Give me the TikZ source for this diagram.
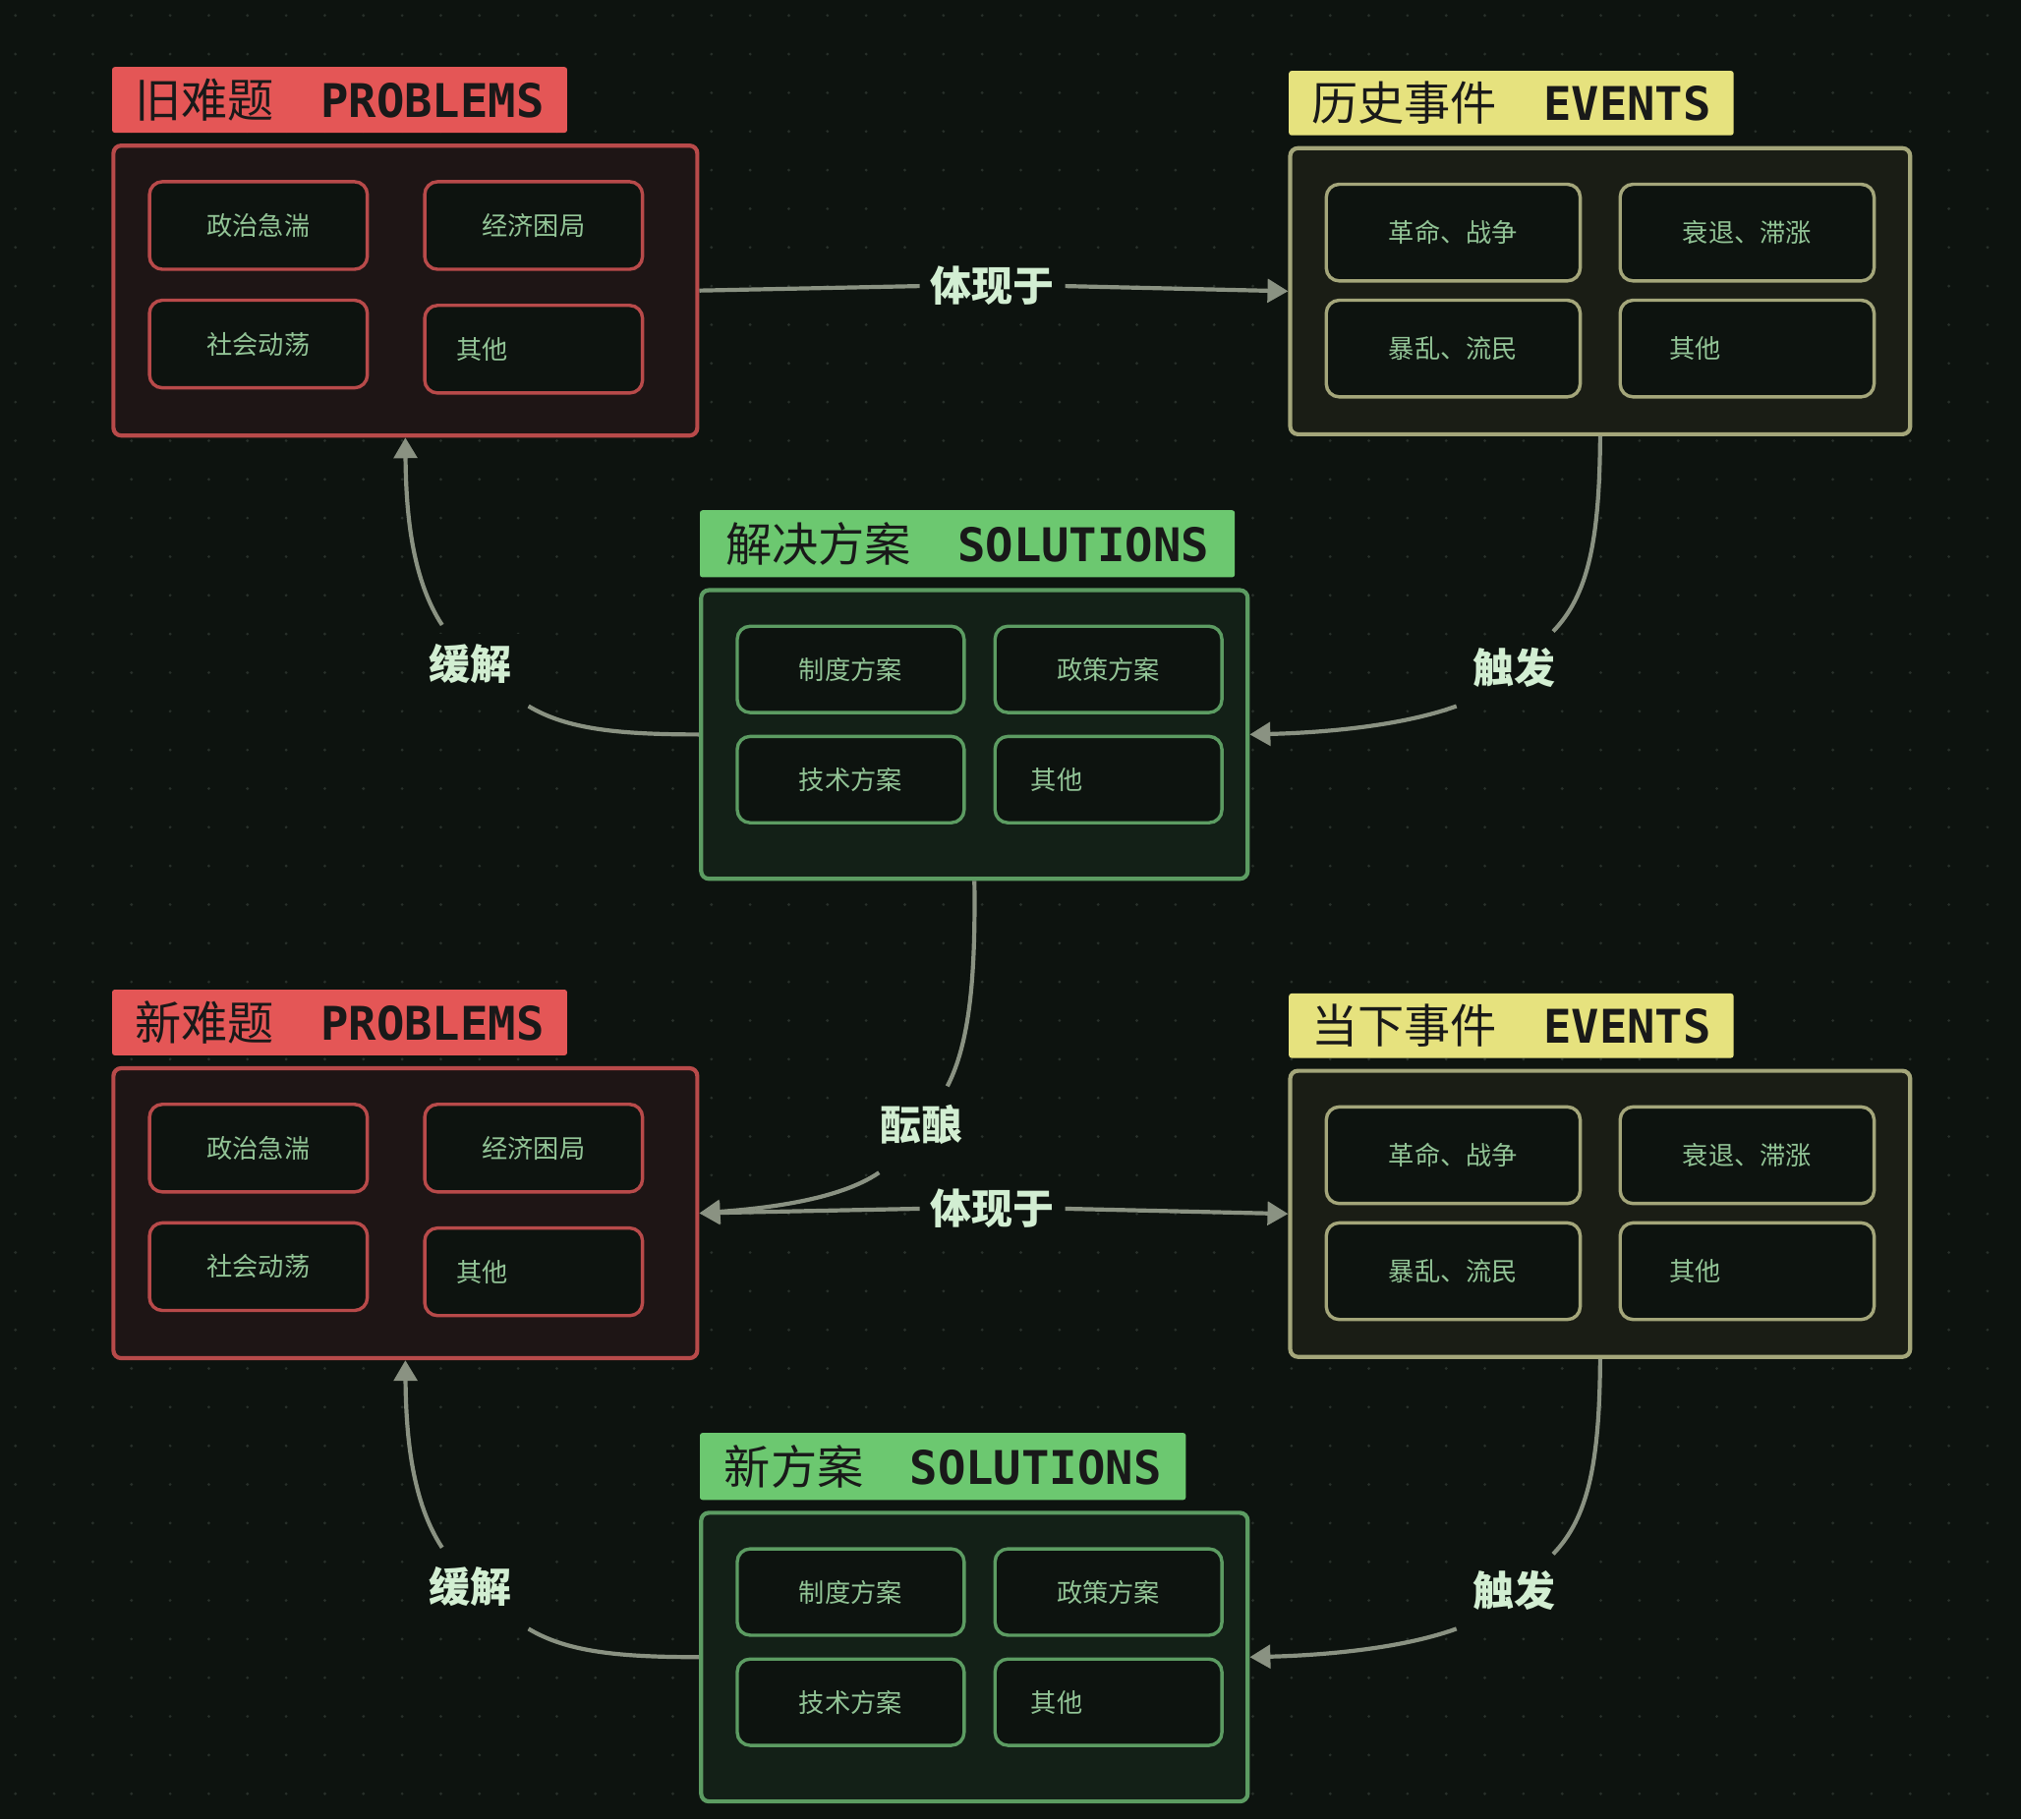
\documentclass[tikz,border=0pt]{standalone}
\usepackage{fontspec}
\setmainfont{Noto Sans CJK SC}
\newfontfamily\mono{DejaVu Sans Mono}
\usetikzlibrary{arrows.meta,calc}
\definecolor{bg}{HTML}{0D130F}
\definecolor{dotc}{HTML}{28302A}
\definecolor{redl}{HTML}{E45656}
\definecolor{redb}{HTML}{B84A4A}
\definecolor{redf}{HTML}{1E1515}
\definecolor{yell}{HTML}{E6E27E}
\definecolor{yelb}{HTML}{A4A67A}
\definecolor{yelf}{HTML}{1A1D15}
\definecolor{grnl}{HTML}{6CC870}
\definecolor{grnb}{HTML}{5C9C62}
\definecolor{grnf}{HTML}{132017}
\definecolor{itxt}{HTML}{92C496}
\definecolor{conn}{HTML}{8A9282}
\definecolor{ltxt}{HTML}{D2EED2}
\tikzset{
  x=0.5pt,y=-0.5pt,
  cont/.style={draw=#1,line width=1.6pt,rounded corners=3pt,inner sep=0pt},
  box/.style={draw=#1,line width=1.3pt,rounded corners=5pt,inner sep=0pt,text=itxt,font=\fontsize{10}{12}\selectfont,fill=bg},
  hdr/.style={fill=#1,rounded corners=1pt,inner sep=0pt,text=black!90,font=\fontsize{18}{20}\selectfont},
  lbl/.style={fill=bg,text=ltxt,font=\fontsize{16}{18}\selectfont\bfseries,inner sep=4pt},
  cn/.style={draw=conn,line width=1.6pt},
  tip/.style={-{Triangle[width=9pt,length=8pt]}},
}
\newcommand\mybox[7]{% name, color, cx, cy, w, h, text
  \node[box=#2,minimum width=#5*0.5pt,minimum height=#6*0.5pt,align=left] (#1) at (#3,#4) {#7};}
\newcommand\drawset[6]{% offset, prefix, problabel, eventlabel, sollabel, sollabel width
  % problems
  \node[cont=redb,fill=redf,minimum width=226.5pt,minimum height=112.5pt] (#2P) at (314.5,{225.5+#1}) {};
  \node[hdr=redl,minimum width=176.5pt,minimum height=25.5pt] (#2Ph) at (263.5,{77.5+#1}) {#3\hspace{1em}{\mono\bfseries PROBLEMS}};
  \mybox{#2p1}{redb}{200.5}{175+#1}{169}{68}{政治急湍}
  \mybox{#2p2}{redb}{414}{175+#1}{169}{68}{经济困局}
  \mybox{#2p3}{redb}{200.5}{267+#1}{169}{68}{社会动荡}
  \mybox{#2p4}{redb}{414}{271+#1}{169}{68}{\hspace*{-40pt}其他}
  % events
  \node[cont=yelb,fill=yelf,minimum width=240.5pt,minimum height=111pt] (#2E) at (1241.5,{226+#1}) {};
  \node[hdr=yell,minimum width=172.5pt,minimum height=25pt] (#2Eh) at (1172.5,{80+#1}) {#4\hspace{1em}{\mono\bfseries EVENTS}};
  \mybox{#2e1}{yelb}{1127.5}{180.5+#1}{197}{75}{革命、战争}
  \mybox{#2e2}{yelb}{1355.5}{180.5+#1}{197}{75}{衰退、滞涨}
  \mybox{#2e3}{yelb}{1127.5}{270.5+#1}{197}{75}{暴乱、流民}
  \mybox{#2e4}{yelb}{1355.5}{270.5+#1}{197}{75}{\hspace*{-40pt}其他}
  % solutions
  \node[cont=grnb,fill=grnf,minimum width=212pt,minimum height=112pt] (#2S) at (756,{570+#1}) {};
  \node[hdr=grnl,minimum width=#6*0.5pt,minimum height=26pt] (#2Sh) at ({543+#6/2},{422+#1}) {#5\hspace{1em}{\mono\bfseries SOLUTIONS}};
  \mybox{#2s1}{grnb}{660}{519.5+#1}{176}{67}{制度方案}
  \mybox{#2s2}{grnb}{860}{519.5+#1}{176}{67}{政策方案}
  \mybox{#2s3}{grnb}{660}{605+#1}{176}{67}{技术方案}
  \mybox{#2s4}{grnb}{860}{605+#1}{176}{67}{\hspace*{-40pt}其他}
  % 触发
  \node[lbl] (#2T) at (1175,{518+#1}) {触发};
  \draw[cn] (#2E.south) .. controls (1241,{420+#1}) and (1232,{462+#1}) .. (1205,{490+#1});
  \draw[cn,tip] (1130,{548+#1}) .. controls (1080,{566+#1}) and (1010,{569+#1}) .. (#2S.east);
  % 缓解
  \node[lbl] (#2H) at (365,{515+#1}) {缓解};
  \draw[cn] (#2S.west) .. controls (480,{570+#1}) and (440,{566+#1}) .. (410,{548+#1});
  \draw[cn,tip] (343,{485+#1}) .. controls (320,{450+#1}) and (315,{400+#1}) .. (#2P.south);
}
\begin{document}
\begin{tikzpicture}
\fill[bg] (0,0) rectangle (1568,1412);
\useasboundingbox (0,0) rectangle (1568,1412);
\foreach \i in {0,...,52}{\foreach \j in {0,...,47}{\fill[dotc] ({12+\i*30},{12+\j*30}) circle (0.6pt);}}
\drawset{0}{a}{旧难题}{历史事件}{解决方案}{415}
\drawset{716}{b}{新难题}{当下事件}{新方案}{377}
% 体现于 top
\node[lbl] (aL) at (770,222) {体现于};
\draw[cn] (aP.east) -- (aL.west);
\draw[cn,tip] (aL.east) -- (aE.west);
% 体现于 bottom
\node[lbl] (bL) at (770,938) {体现于};
\draw[cn,tip] (bL.west) -- (bP.east);
\draw[cn,tip] (bL.east) -- (bE.west);
% 酝酿
\node[lbl] (Y) at (715,873) {酝酿};
\draw[cn] (aS.south) .. controls (757,760) and (752,810) .. (735,843);
\draw[cn,tip] (682,910) .. controls (650,932) and (590,938) .. (bP.east);
\end{tikzpicture}
\end{document}
